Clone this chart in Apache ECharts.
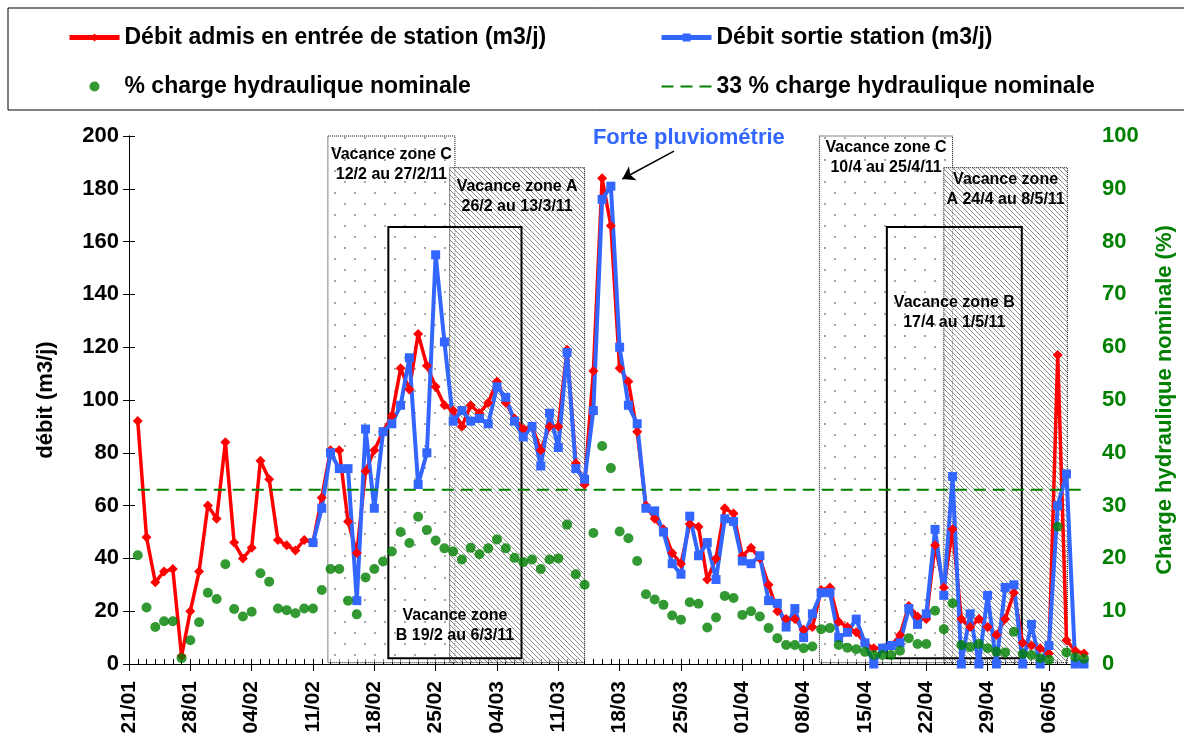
<!DOCTYPE html>
<html>
<head>
<meta charset="utf-8">
<script src="https://cdn.jsdelivr.net/npm/echarts@6/dist/echarts.min.js"></script>
<style>
html, body { margin: 0; padding: 0; background: #fff; }
#chart { width: 1184px; height: 740px; }
</style>
</head>
<body>
<div id="chart"></div>
<script>
// jour 0 = 21/01, un point par jour jusqu'au 10/05
var etiquettes = ['21/01', '28/01', '04/02', '11/02', '18/02', '25/02', '04/03', '11/03',
	'18/03', '25/03', '01/04', '08/04', '15/04', '22/04', '29/04', '06/05'];

var debitEntree = [null,
	92, 48, 31, 35, 36, 3, 20, 35, 60, 55, 84, 46, 40, 44, 77, 70, 47, 45, 43, 47,
	46, 63, 81, 81, 54, 42, 73, 81, 88, 94, 112, 104, 125, 113, 105, 98, 96, 90, 98, 95,
	99, 107, 99, 93, 89, 90, 81, 90, 90, 119, 76, 68, 111, 184, 166, 112, 107, 88, 60, 55,
	51, 42, 38, 53, 52, 32, 40, 59, 57, 41, 44, 40, 30, 20, 17, 17, 13, 14, 28, 29,
	16, 14, 12, 8, 6, 6, 7, 11, 22, 18, 17, 45, 29, 51, 17, 14, 17, 14, 11, 17,
	27, 8, 7, 6, 4, 117, 9, 5, 4];

var debitSortie = [null,
	null, null, null, null, null, null, null, null, null, null, null, null, null, null, null, null, null, null, null, null,
	46, 59, 80, 74, 74, 24, 89, 59, 88, 91, 98, 116, 68, 80, 155, 122, 92, 96, 92, 93,
	91, 105, 101, 92, 86, 90, 75, 95, 82, 118, 74, 70, 96, 176, 181, 120, 98, 91, 59, 58,
	50, 38, 34, 56, 41, 46, 32, 55, 54, 39, 38, 41, 24, 23, 14, 21, 10, 19, 27, 27,
	10, 12, 17, 8, 0, 6, 7, 8, 21, 15, 19, 51, 26, 71, 0, 19, 0, 26, 0, 29,
	30, 0, 15, 0, 7, 60, 72, 0, 0];

var chargePct = [null,
	20.6, 10.7, 7, 8.1, 8.1, 1.1, 4.5, 7.9, 13.5, 12.3, 18.9, 10.4, 9, 9.9, 17.2, 15.6, 10.5, 10.2, 9.6, 10.5,
	10.5, 14, 18, 18, 12, 9.4, 16.4, 18, 19.4, 21.3, 25, 22.9, 27.9, 25.4, 23.4, 21.9, 21.3, 19.8, 22, 20.8,
	21.9, 23.6, 21.9, 20.1, 19.3, 19.8, 18, 19.8, 20, 26.4, 17, 15, 24.8, 41.3, 37.1, 25.1, 23.8, 19.5, 13.2, 12.2,
	11.2, 9.2, 8.4, 11.7, 11.4, 6.9, 8.8, 12.9, 12.5, 9.3, 10, 9, 6.8, 4.9, 3.6, 3.6, 3, 3.3, 6.6, 6.8,
	3.6, 3.1, 2.8, 2.3, 1.7, 1.7, 1.7, 2.5, 4.9, 3.8, 3.8, 10.1, 6.6, 11.5, 3.6, 3.2, 3.8, 3, 2.3, 2.2,
	6.1, 1.9, 1.7, 1.1, 0.8, 26, 2.2, 1.3, 1];

var seuilNominal = 33;

// périodes de vacances (en jours depuis le 21/01)
var vacances = [
	{ texte: 'Vacance zone C\n12/2 au 27/2/11', debut: 22.7, fin: 37.2, bas: 0.5, haut: 205.5, motif: 'points', pos: 'insideTop', dist: 9 },
	{ texte: 'Vacance zone A\n26/2 au 13/3/11', debut: 36.6, fin: 52.0, bas: 0.5, haut: 188, motif: 'hachures', pos: 'insideTop', dist: 9 },
	{ texte: 'Vacance zone C\n10/4 au 25/4/11', debut: 78.8, fin: 94.0, bas: 0.5, haut: 205.5, motif: 'points', pos: 'insideTop', dist: 2 },
	{ texte: 'Vacance zone\nA 24/4 au 8/5/11', debut: 93.0, fin: 107.1, bas: 0.5, haut: 188, motif: 'hachures', pos: 'insideTop', dist: 2 },
	{ texte: 'Vacance zone\nB 19/2 au 6/3/11', debut: 29.6, fin: 44.8, bas: 2.2, haut: 165.5, motif: 'cadre', pos: 'insideBottom', dist: 14 },
	{ texte: 'Vacance zone B\n17/4 au 1/5/11', debut: 86.5, fin: 101.9, bas: 2.2, haut: 165.5, motif: 'cadre', pos: 'insideTop', dist: 67 }
];

var police = "'Liberation Sans', Arial, sans-serif";
var rouge = '#FF0000', bleu = '#3366FF', vert = '#008000';

function points(arr) {
	var out = [];
	arr.forEach(function (v, i) {
		if (v !== null) out.push([i, v]);
	});
	return out;
}

function motifPoints() {
	var c = document.createElement('canvas');
	c.width = 20; c.height = 22;
	var ctx = c.getContext('2d');
	ctx.fillStyle = 'rgba(255,255,255,0.5)';
	ctx.fillRect(0, 0, 20, 22);
	ctx.fillStyle = '#a8a8a8';
	ctx.fillRect(4, 5, 2, 2);
	ctx.fillRect(14, 16, 2, 2);
	return c;
}

function motifHachures() {
	var c = document.createElement('canvas');
	c.width = 5; c.height = 5;
	var ctx = c.getContext('2d');
	ctx.fillStyle = 'rgba(255,255,255,0.5)';
	ctx.fillRect(0, 0, 5, 5);
	ctx.strokeStyle = '#8c8c8c';
	ctx.lineWidth = 1;
	ctx.beginPath();
	ctx.moveTo(-1, -1); ctx.lineTo(6, 6);
	ctx.moveTo(-1, 4); ctx.lineTo(1, 6);
	ctx.moveTo(4, -1); ctx.lineTo(6, 1);
	ctx.stroke();
	return c;
}

var texPoints = { image: motifPoints(), repeat: 'repeat' };
var texHachures = { image: motifHachures(), repeat: 'repeat' };

var zonesData = vacances.map(function (z) {
	var style;
	if (z.motif === 'points') {
		style = { color: texPoints, borderColor: '#000', borderWidth: 1, borderType: 'dotted' };
	} else if (z.motif === 'hachures') {
		style = { color: texHachures, borderColor: '#000', borderWidth: 1, borderType: 'dotted' };
	} else {
		style = { color: 'rgba(0,0,0,0)', borderColor: '#000', borderWidth: 2 };
	}
	return [{
		name: z.texte,
		xAxis: z.debut,
		yAxis: z.haut,
		itemStyle: style,
		label: {
			show: true, position: z.pos, distance: z.dist,
			color: '#000', fontFamily: police, fontWeight: 'bold', fontSize: 16, lineHeight: 20, align: 'center'
		}
	}, { xAxis: z.fin, yAxis: z.bas }];
});

var styleLegende = { fontFamily: police, fontWeight: 'bold', fontSize: 23, color: '#000' };

var chart = echarts.init(document.getElementById('chart'));

chart.setOption({
	animation: false,
	backgroundColor: '#fff',
	graphic: [{
		type: 'rect',
		shape: { x: 8, y: 8, width: 1200, height: 102 },
		style: { fill: 'none', stroke: '#000', lineWidth: 1 },
		silent: true
	}],
	legend: [{
		left: 62, top: 21, orient: 'vertical', itemGap: 26, itemWidth: 50, itemHeight: 10,
		textStyle: styleLegende,
		data: [
			{ name: 'Débit admis en entrée de station (m3/j)', lineStyle: { width: 5 } },
			{ name: '% charge hydraulique nominale' }
		]
	}, {
		left: 654, top: 21, orient: 'vertical', itemGap: 26, itemWidth: 50, itemHeight: 10,
		textStyle: styleLegende,
		data: [
			{ name: 'Débit sortie station (m3/j)', lineStyle: { width: 5 } },
			{ name: '33 % charge hydraulique nominale', itemStyle: { opacity: 0 }, lineStyle: { width: 2 } }
		]
	}],
	grid: { left: 129, right: 95, top: 136, bottom: 76 },
	xAxis: [{
		type: 'value', min: 0, max: 109, interval: 7,
		axisLine: { lineStyle: { color: '#000', width: 1 } },
		axisTick: { length: 7, lineStyle: { color: '#000' } },
		splitLine: { show: false },
		axisLabel: {
			rotate: 90, margin: 17, showMaxLabel: false,
			fontFamily: police, fontWeight: 'bold', fontSize: 21, color: '#000',
			formatter: function (v) { return v % 7 === 0 ? etiquettes[v / 7] : ''; }
		}
	}, {
		type: 'value', min: 0, max: 109, interval: 1, position: 'bottom',
		axisLine: { show: false },
		axisTick: { inside: true, length: 5, lineStyle: { color: '#000' } },
		axisLabel: { show: false },
		splitLine: { show: false }
	}],
	yAxis: [{
		type: 'value', min: 0, max: 200, interval: 20,
		name: 'débit (m3/j)', nameLocation: 'middle', nameRotate: 90, nameGap: 72,
		nameTextStyle: { fontFamily: police, fontWeight: 'bold', fontSize: 22, color: '#000' },
		axisLine: { show: true, lineStyle: { color: '#000' } },
		axisTick: { show: true, length: 6, lineStyle: { color: '#000' } },
		splitLine: { show: false },
		axisLabel: { margin: 10, fontFamily: police, fontWeight: 'bold', fontSize: 22, color: '#000' }
	}, {
		type: 'value', min: 0, max: 100, interval: 10, position: 'right',
		name: 'Charge hydraulique nominale (%)', nameLocation: 'middle', nameRotate: 90, nameGap: 70,
		nameTextStyle: { fontFamily: police, fontWeight: 'bold', fontSize: 22, color: vert },
		axisLine: { show: true, lineStyle: { color: '#000' } },
		axisTick: { show: true, length: 6, lineStyle: { color: '#000' } },
		splitLine: { show: false },
		axisLabel: { margin: 18, fontFamily: police, fontWeight: 'bold', fontSize: 22, color: vert }
	}],
	series: [{
		name: 'Débit admis en entrée de station (m3/j)',
		type: 'line', z: 2,
		data: points(debitEntree),
		symbol: 'diamond', symbolSize: 10,
		lineStyle: { color: rouge, width: 3.5 },
		itemStyle: { color: rouge }
	}, {
		name: 'Débit sortie station (m3/j)',
		type: 'line', z: 2,
		data: points(debitSortie),
		symbol: 'rect', symbolSize: 9,
		lineStyle: { color: bleu, width: 4 },
		itemStyle: { color: bleu }
	}, {
		name: '% charge hydraulique nominale',
		type: 'scatter', yAxisIndex: 1, z: 2,
		data: points(chargePct),
		symbol: 'circle', symbolSize: 10,
		itemStyle: { color: vert }
	}, {
		name: '33 % charge hydraulique nominale',
		type: 'line', yAxisIndex: 1, z: 2,
		data: [[1, seuilNominal], [109, seuilNominal]],
		symbol: 'none',
		lineStyle: { color: vert, width: 2, type: [12, 7] },
		itemStyle: { color: vert }
	}, {
		name: 'vacances',
		type: 'line', z: 3, clip: false, silent: true,
		data: [],
		markArea: { silent: true, data: zonesData }
	}, {
		name: 'annotation',
		type: 'line', z: 4, clip: false, silent: true,
		data: [],
		markLine: {
			silent: true, symbol: ['none', 'arrow'], symbolSize: 12,
			lineStyle: { color: '#000', width: 1.5, type: 'solid' },
			label: { show: false },
			data: [[{ coord: [62.2, 194.3] }, { coord: [56.3, 183.7] }]]
		},
		markPoint: {
			silent: true, symbol: 'circle', symbolSize: 1,
			itemStyle: { color: 'rgba(0,0,0,0)' },
			label: {
				show: true, position: 'inside', color: bleu,
				fontFamily: police, fontWeight: 'bold', fontSize: 22,
				formatter: 'Forte pluviométrie'
			},
			data: [{ coord: [63.9, 199.4] }]
		}
	}]
});
</script>
</body>
</html>
